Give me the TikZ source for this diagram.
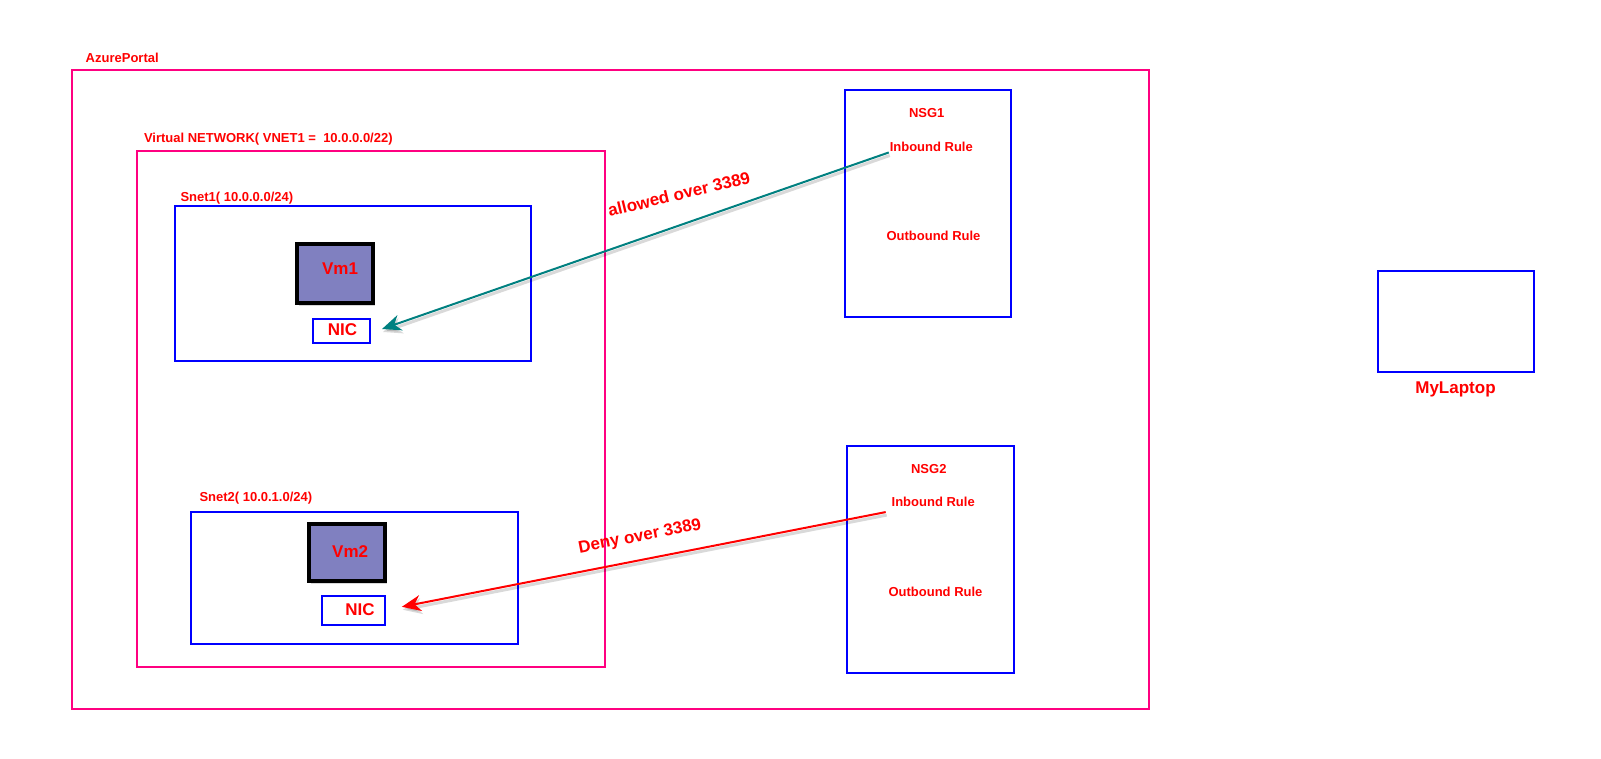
\documentclass[tikz,border=0pt]{standalone}
\usepackage{fontspec}
\setmainfont{Liberation Sans}
\usetikzlibrary{arrows.meta,shadows}
\definecolor{pinkline}{RGB}{255,0,128}
\definecolor{blueline}{RGB}{0,0,255}
\definecolor{txtred}{RGB}{255,0,0}
\definecolor{vmfill}{RGB}{128,128,192}
\definecolor{tealline}{RGB}{0,128,128}
\tikzset{
  pinkbox/.style={draw=pinkline,line width=2pt,rectangle,inner sep=0pt,outer sep=0pt},
  bluebox/.style={draw=blueline,line width=2pt,rectangle,inner sep=0pt,outer sep=0pt},
  vmbox/.style={draw=black,line width=4pt,fill=vmfill,rectangle,inner sep=0pt,outer sep=0pt,
    drop shadow={shadow xshift=2pt,shadow yshift=-3pt,opacity=0.3}},
  smalltxt/.style={text=txtred,font=\fontsize{13}{15}\selectfont\bfseries,inner sep=1pt,outer sep=0pt},
  bigtxt/.style={text=txtred,font=\fontsize{17}{19}\selectfont\bfseries,inner sep=1pt,outer sep=0pt},
  arr/.style={line width=2pt,-{Stealth[length=19pt,width=16pt,inset=6pt]},
    preaction={draw=black,opacity=0.15,line width=3pt,transform canvas={shift={(1pt,-3pt)}}}},
}
\begin{document}
\begin{tikzpicture}[x=1pt,y=-1pt]
\useasboundingbox[fill=white] (0,0) rectangle (1601,758);

% outer boxes
\node[pinkbox,minimum width=1077pt,minimum height=639pt] (azure) at (610,389) {};
\node[smalltxt] (azlabel) at (122.2,58.3) {AzurePortal};

\node[pinkbox,minimum width=468pt,minimum height=516pt] (vnet) at (371,409) {};
\node[smalltxt,anchor=west] (vnetlabel) at (143,139) {Virtual NETWORK( VNET1 =\ \ 10.0.0.0/22)};

% subnet 1
\node[bluebox,minimum width=356pt,minimum height=155pt] (snet1) at (352.8,283) {};
\node[smalltxt,anchor=west] (snet1label) at (179.5,197.7) {Snet1( 10.0.0.0/24)};
\node[vmbox,minimum width=76pt,minimum height=59pt,
  label={[bigtxt,xshift=5pt,yshift=5pt]center:Vm1}] (vm1) at (335,273.3) {};
\node[bluebox,minimum width=57pt,minimum height=24pt,
  label={[bigtxt,xshift=1pt,yshift=1.5pt]center:NIC}] (nic1) at (341.5,331) {};

% subnet 2
\node[bluebox,minimum width=327pt,minimum height=132pt] (snet2) at (354,578) {};
\node[smalltxt,anchor=west] (snet2label) at (198.5,498.3) {Snet2( 10.0.1.0/24)};
\node[vmbox,minimum width=75.5pt,minimum height=57.5pt,
  label={[bigtxt,xshift=3pt,yshift=1pt]center:Vm2}] (vm2) at (347.2,552.5) {};
\node[bluebox,minimum width=62.5pt,minimum height=29pt,
  label={[bigtxt,xshift=6.5pt,yshift=1.5pt]center:NIC}] (nic2) at (353.6,610.8) {};

% NSG1
\node[bluebox,minimum width=166pt,minimum height=227pt] (nsg1) at (928.3,203.8) {};
\node[smalltxt] (nsg1t) at (926.7,113.3) {NSG1};
\node[smalltxt] (in1) at (931.3,146.7) {Inbound Rule};
\node[smalltxt] (out1) at (933.5,236) {Outbound Rule};

% NSG2
\node[bluebox,minimum width=167pt,minimum height=227pt] (nsg2) at (930.2,559.5) {};
\node[smalltxt] (nsg2t) at (928.8,469.3) {NSG2};
\node[smalltxt] (in2) at (933.2,502.3) {Inbound Rule};
\node[smalltxt] (out2) at (935.5,592.3) {Outbound Rule};

% laptop
\node[bluebox,minimum width=156pt,minimum height=100.5pt] (laptop) at (1455.8,321.3) {};
\node[bigtxt] (laptoplabel) at (1455.5,389.3) {MyLaptop};

% connectors
\draw[arr,draw=tealline] (in1.south west) -- ([xshift=12pt,yshift=2pt]nic1.east);
\node[bigtxt,rotate=13.5] (allow) at (679,194) {allowed over 3389};

\draw[arr,draw=txtred] ([xshift=-5pt,yshift=-4pt]in2.south west) -- ([xshift=17pt,yshift=4pt]nic2.east);
\node[bigtxt,rotate=11] (deny) at (640,537) {Deny over 3389};
\end{tikzpicture}
\end{document}
